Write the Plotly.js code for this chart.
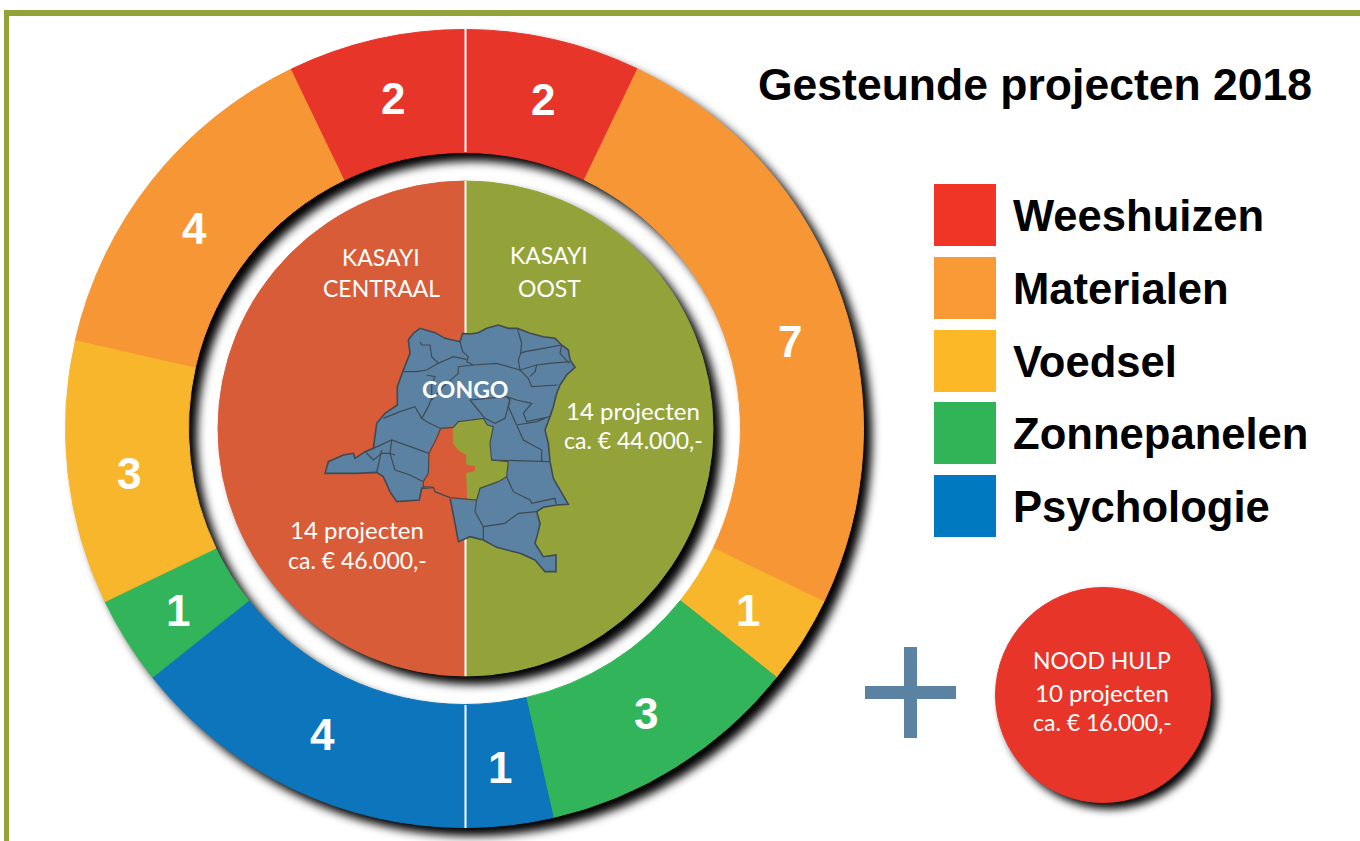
<!DOCTYPE html>
<html>
<head>
<meta charset="utf-8">
<script src="https://cdn.plot.ly/plotly-3.0.1.min.js"></script>
<style>html,body{margin:0;padding:0;background:#fff;overflow:hidden}
#rings,#map{position:absolute;left:0;top:0;width:1360px;height:841px}</style>
</head>
<body>
<div id="rings"></div>
<div id="map"></div>
<script>
// ---- data ----
const ringCategories = ["Weeshuizen","Materialen","Voedsel","Zonnepanelen","Psychologie","Psychologie","Zonnepanelen","Voedsel","Materialen","Weeshuizen"];
const ringValues = [2,7,1,3,1,4,1,3,4,2];
const ringColors = ["#e8352a","#f79635","#f8b62d","#32b55a","#0d75bc","#0d75bc","#32b55a","#f8b62d","#f79635","#e8352a"];
const ringLabelX = [543,790,748,646,500,322,178,129,194,393];
const ringLabelY = [99,341,610,713,767,734,610,473,228,98];

const regionNames = ["Kasayi Oost","Kasayi Centraal"];
const regionProjects = [14,14];
const regionColors = ["#93a33a","#d95c38"];

const legendNames = ["Weeshuizen","Materialen","Voedsel","Zonnepanelen","Psychologie"];
const legendColors = ["#f03527","#f99a36","#fdb827","#30b457","#0079c1"];
const legendTops = [184,257,330,402,475];

const emergencyProjects = [10];

// map outlines, in the 840-wide zoom frame of the map crop
const congoOutline = [[295,90],[310,70],[330,55],[350,60],[375,68],[405,85],[430,90],[450,95],[458,70],[480,72],[505,68],[530,55],[565,45],[595,55],[622,55],[660,70],[700,80],[735,85],[755,105],[775,120],[780,150],[795,172],[770,195],[750,225],[740,250],[730,290],[720,320],[705,360],[715,400],[720,455],[730,505],[750,540],[775,583],[740,585],[700,592],[680,605],[690,640],[685,665],[675,700],[700,740],[738,735],[738,785],[705,785],[675,750],[630,730],[560,712],[520,690],[480,680],[445,695],[435,640],[425,590],[420,563],[375,545],[370,532],[335,535],[328,570],[260,575],[240,545],[220,500],[200,487],[140,490],[90,490],[45,490],[55,455],[100,435],[130,430],[135,445],[165,425],[190,415],[200,340],[225,310],[262,285],[262,230],[278,185],[300,130],[295,90]];
const kasaiCentral = [[392,355],[430,352],[430,400],[445,420],[470,435],[470,462],[497,468],[495,485],[470,490],[472,530],[473,568],[420,563],[375,545],[370,532],[340,530],[340,515],[355,490],[357,430],[380,385],[392,355]];
const kasaiEast = [[430,352],[445,335],[520,325],[532,345],[550,350],[540,400],[545,450],[595,455],[590,500],[565,515],[510,535],[500,570],[473,568],[472,530],[470,490],[495,485],[497,468],[470,462],[470,435],[445,420],[430,400],[430,352]];
const congoBorders = [
 [[330,95],[335,105],[360,105],[365,140],[385,160],[430,140],[470,148]],
 [[278,185],[320,185],[350,180],[385,160]],
 [[350,195],[375,200],[365,225],[365,265],[355,290],[335,325],[350,335],[390,355]],
 [[365,270],[400,230],[445,190],[445,170],[490,165],[560,160],[630,180]],
 [[450,95],[458,125],[475,140],[470,155],[490,165]],
 [[622,55],[635,100],[632,130],[625,150],[630,180],[655,205],[665,230],[742,225]],
 [[632,130],[645,125],[700,115],[755,105]],
 [[630,180],[680,165],[720,160],[778,155]],
 [[680,165],[675,185],[660,200]],
 [[755,105],[750,130],[778,160]],
 [[590,260],[620,270],[665,280],[640,310],[650,335],[720,320]],
 [[480,270],[510,305],[525,325]],
 [[590,260],[600,270],[585,325],[555,340],[525,325]],
 [[480,270],[545,265],[590,260]],
 [[600,265],[595,290],[620,345],[640,390],[695,420],[695,455]],
 [[620,345],[680,335],[705,325]],
 [[545,450],[720,455]],
 [[590,500],[610,545],[660,570],[665,580],[735,565],[738,582]],
 [[500,570],[495,605],[520,650],[520,690]],
 [[520,650],[585,640],[625,610],[680,605]],
 [[220,325],[270,305],[315,290],[335,325]],
 [[190,415],[245,390],[357,430]],
 [[245,390],[240,430],[255,480],[300,495],[340,515]],
 [[215,420],[205,470],[200,487]],
 [[165,425],[190,450],[215,430],[240,430],[255,435]],
 [[335,535],[340,530],[340,515],[355,490],[357,430],[380,385],[392,355],[430,352],[445,335],[520,325],[532,345],[550,350],[540,400],[545,450],[595,455],[590,500],[565,515],[510,535],[500,570],[473,568],[420,563],[375,545],[370,532],[340,530]]
];

// ---- helpers ----
const W = 1360, H = 841;
const domain = (cx,cy,r) => ({x:[(cx-r)/W,(cx+r)/W], y:[1-(cy+r)/H,1-(cy-r)/H]});
const mx = v => 310 + v/3, my = v => 310 + v/3;
const poly = (pts,fill,edge,w) => ({type:'scatter',mode:'lines',x:pts.map(p=>mx(p[0])),y:pts.map(p=>my(p[1])),
  fill:'toself',fillcolor:fill,line:{color:edge,width:w},hoverinfo:'skip',showlegend:false});
const pie = (values,labels,colors,dom,hole) => ({type:'pie',values,labels,sort:false,direction:'clockwise',rotation:0,
  hole,domain:dom,marker:{colors,line:{width:1,color:colors}},textinfo:'none',hoverinfo:'skip',showlegend:false});

const borderX=[],borderY=[];
congoBorders.forEach(l=>{l.forEach(p=>{borderX.push(mx(p[0]));borderY.push(my(p[1]));});borderX.push(null);borderY.push(null);});

const pieTraces = [
  pie(ringValues,ringCategories.map((c,i)=>c+' '+i),ringColors,domain(464.5,428.5,399),276/399),
  pie(regionProjects,regionNames,regionColors,domain(465.5,428.5,247.5),0),
  pie(emergencyProjects,['Nood hulp'],['#e8352a'],domain(1103,695,107.5),0)
];
const mapTraces = [
  {type:'scatter',mode:'lines',x:[465.5,465.5,null,465.5,465.5,null,465.5,465.5],y:[29,152,null,181,676,null,705,828],
   line:{color:'#ffffff',width:2},hoverinfo:'skip',showlegend:false},
  poly(congoOutline,'#5b82a2','#3f4a52',1.6),
  poly(kasaiCentral,'#d95c38','#d95c38',2),
  poly(kasaiEast,'#93a33a','#93a33a',1),
  {type:'scatter',mode:'lines',x:borderX,y:borderY,line:{color:'#3f4a52',width:1.2},connectgaps:false,hoverinfo:'skip',showlegend:false}
];

const rect = (x0,y0,x1,y1,c) => ({type:'rect',xref:'x',yref:'y',x0,y0,x1,y1,fillcolor:c,line:{width:0},layer:'above'});
const shapes = [
  rect(4,10,1360,16,'#93a33a'),
  rect(4,10,9,841,'#93a33a'),
  rect(865,686,956,699,'#5b82a2'),
  rect(904,647,917,738,'#5b82a2'),
  ...legendNames.map((n,i)=>rect(934,legendTops[i],996,legendTops[i]+62,legendColors[i]))
];

const SANS = 'Liberation Sans, Arial, sans-serif', HUM = 'Lato, sans-serif';
const note = (text,x,y,size,color,family,anchor) => ({text,x,y,xref:'x',yref:'y',showarrow:false,xanchor:anchor||'center',yanchor:'middle',
  font:{size,color,family},borderpad:0});
const annotations = [
  note('<b>Gesteunde projecten 2018</b>',1035,84,44.5,'#000',SANS),
  ...legendNames.map((n,i)=>note('<b>'+n+'</b>',1012,legendTops[i]+32,43.6,'#000',SANS,'left')),
  ...ringValues.map((v,i)=>note('<b>'+v+'</b>',ringLabelX[i],ringLabelY[i],44,'#fff',SANS)),
  note('KASAYI',381,257,23,'#fff',HUM), note('CENTRAAL',381,288,23,'#fff',HUM),
  note('KASAYI',549,255,23,'#fff',HUM), note('OOST',549,288,23,'#fff',HUM),
  note('14 projecten',633,410,24,'#fff',HUM), note('ca. € 44.000,-',633,440,23,'#fff',HUM),
  note('14 projecten',357,529,24,'#fff',HUM), note('ca. € 46.000,-',357,560,23,'#fff',HUM),
  note('<b>CONGO</b>',465,389,23,'#fff',HUM),
  note('NOOD HULP',1102,660,23,'#fff',HUM), note('10 projecten',1102,692,24,'#fff',HUM), note('ca. € 16.000,-',1102,722,23,'#fff',HUM)
];

const baseLayout = {
  width:W,height:H,margin:{l:0,r:0,t:0,b:0,pad:0},showlegend:false,plot_bgcolor:'rgba(0,0,0,0)'
};
const config = {displayModeBar:false,staticPlot:true};

Plotly.newPlot('rings',pieTraces,Object.assign({},baseLayout,{paper_bgcolor:'#fff'}),config).then(gd=>{
  const shadows = ['drop-shadow(8px 8px 5px #000)','drop-shadow(8px 8px 5px #000)','drop-shadow(6px 6px 4px #000)'];
  gd.querySelectorAll('.pielayer .trace').forEach((t,i)=>{t.style.filter=shadows[i];});
});
Plotly.newPlot('map',mapTraces,Object.assign({},baseLayout,{
  paper_bgcolor:'rgba(0,0,0,0)',
  xaxis:{range:[0,W],visible:false,fixedrange:true},
  yaxis:{range:[H,0],visible:false,fixedrange:true},
  shapes,annotations
}),config);
</script>
</body>
</html>
